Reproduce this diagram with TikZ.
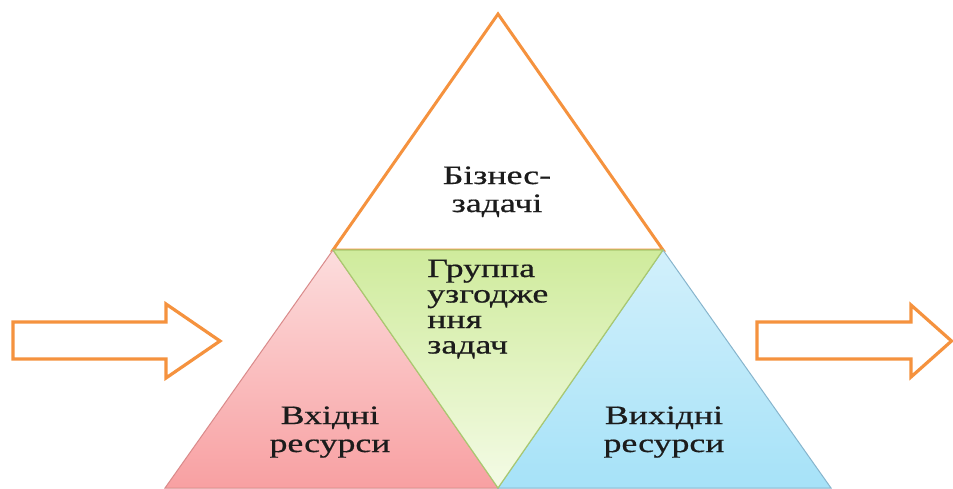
\documentclass[tikz,border=0pt]{standalone}
\usepackage{fontspec}
\setmainfont{Liberation Serif}
\newfontfamily\labelfont[FakeBold=0.6]{Liberation Serif}
\definecolor{orangeline}{HTML}{F5923E}
\definecolor{greenedge}{HTML}{A9C970}
\definecolor{greentop}{HTML}{CFEB9C}
\definecolor{greenbot}{HTML}{F4FBE6}
\definecolor{rededge}{HTML}{D98A8A}
\definecolor{redtop}{HTML}{FCDDDD}
\definecolor{redbot}{HTML}{F8A0A2}
\definecolor{blueedge}{HTML}{86B4CC}
\definecolor{bluetop}{HTML}{D2F0FB}
\definecolor{bluebot}{HTML}{A6E2F8}
\definecolor{inktext}{HTML}{1C1C1C}
\begin{document}
\begin{tikzpicture}[x=1pt,y=-1pt,
  outline/.style={draw=orangeline,line width=3pt,line join=miter},
  flow/.style={draw=orangeline,line width=3.2pt,fill=white,line join=miter},
  label/.style={inner sep=0pt,anchor=base,text=inktext,xscale=1.35,
    font=\labelfont\fontsize{26.5}{28}\selectfont},
  leftlabel/.style={label,anchor=base west}]
\useasboundingbox (0,0) rectangle (953,488);

% corner points of the pyramid
\coordinate (apex) at (498,14);
\coordinate (midL) at (333,250);
\coordinate (midR) at (663,250);
\coordinate (botM) at (498,488);
\coordinate (botL) at (165,488);
\coordinate (botR) at (831,488);

% top triangle
\path[outline,fill=white] (apex) -- (midR) -- (midL) -- cycle;

% lower left and lower right triangles
\path[top color=redtop,bottom color=redbot,draw=rededge,line width=1pt]
  (midL) -- (botM) -- (botL) -- cycle;
\path[top color=bluetop,bottom color=bluebot,draw=blueedge,line width=1pt]
  (midR) -- (botR) -- (botM) -- cycle;

% inverted middle triangle
\path[top color=greentop,bottom color=greenbot,draw=greenedge,line width=1.2pt]
  (midL) -- (midR) -- (botM) -- cycle;

% block arrows on both sides
\path[flow] (13,322) -- (166,322) -- (166,304) -- (220,341) -- (166,378)
  -- (166,359) -- (13,359) -- cycle;
\path[flow] (757,322) -- (911,322) -- (911,305) -- (951.5,341) -- (911,377)
  -- (911,359) -- (757,359) -- cycle;

% labels
\node[label] (biz1) at (497,184) {Бізнес-};
\node[label] (biz2) at (497,212) {задачі};

\node[leftlabel] (grp1) at (427,277) {Группа};
\node[leftlabel] (grp2) at (427,302.5) {узгодже};
\node[leftlabel] (grp3) at (427,328) {ння};
\node[leftlabel] (grp4) at (427,353.5) {задач};

\node[label] (in1) at (330,424) {Вхідні};
\node[label] (in2) at (330,452) {ресурси};

\node[label] (out1) at (664,424) {Вихідні};
\node[label] (out2) at (664,452) {ресурси};
\end{tikzpicture}
\end{document}
